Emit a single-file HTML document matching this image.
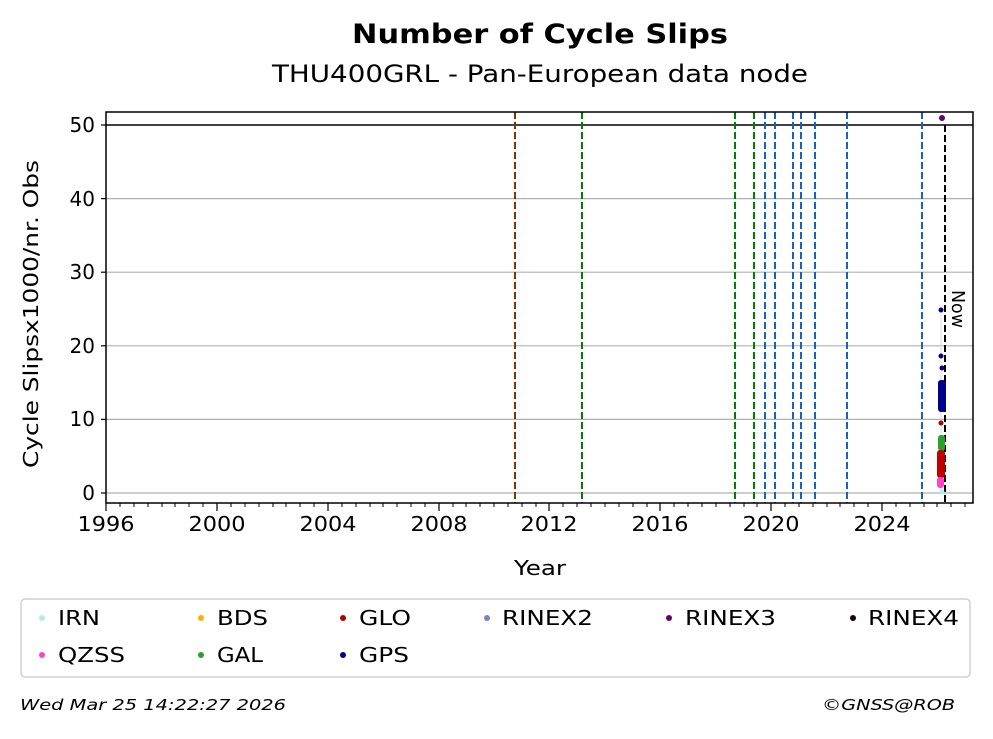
<!DOCTYPE html>
<html><head><style>body{margin:0;background:#fff}</style></head><body>
<svg width="993" height="734" xmlns="http://www.w3.org/2000/svg" font-family="'DejaVu Sans', 'Liberation Sans', sans-serif">
<rect width="993" height="734" fill="#fff"/>
<text x="540" y="43" font-size="27" font-weight="bold" text-anchor="middle" textLength="376" lengthAdjust="spacingAndGlyphs">Number of Cycle Slips</text>
<text x="540" y="82" font-size="24" text-anchor="middle" textLength="536" lengthAdjust="spacingAndGlyphs">THU400GRL - Pan-European data node</text>
<g stroke="#b0b0b0" stroke-width="1.2">
<line x1="106" x2="973" y1="493" y2="493"/><line x1="106" x2="973" y1="419.4" y2="419.4"/>
<line x1="106" x2="973" y1="345.8" y2="345.8"/><line x1="106" x2="973" y1="272.2" y2="272.2"/>
<line x1="106" x2="973" y1="198.6" y2="198.6"/>
</g>
<line x1="106" x2="973" y1="125" y2="125" stroke="#000" stroke-width="1.5"/>
<g stroke-width="2" stroke-dasharray="7,3">
<line x1="515" x2="515" y1="112" y2="503" stroke="#008000"/>
<line x1="515" x2="515" y1="112" y2="503" stroke="#e00000" stroke-dasharray="2,3"/>
<line x1="582" x2="582" y1="112" y2="503" stroke="#008000"/>
<line x1="735" x2="735" y1="112" y2="503" stroke="#008000"/>
<line x1="754" x2="754" y1="112" y2="503" stroke="#008000"/>
<g stroke="#1565c0">
<line x1="765" x2="765" y1="112" y2="503"/><line x1="775" x2="775" y1="112" y2="503"/>
<line x1="793" x2="793" y1="112" y2="503"/><line x1="801" x2="801" y1="112" y2="503"/>
<line x1="815" x2="815" y1="112" y2="503"/><line x1="847" x2="847" y1="112" y2="503"/>
<line x1="922" x2="922" y1="112" y2="503"/>
</g>
<line x1="945" x2="945" y1="125" y2="503" stroke="#000"/>
</g>
<text x="952" y="290" font-size="18" transform="rotate(90 952 290)" textLength="38" lengthAdjust="spacingAndGlyphs">Now</text>
<line x1="941" x2="941" y1="310" y2="490" stroke="#ddd" stroke-width="1"/>
<g>
<circle cx="942" cy="118" r="3" fill="#6a006a"/>
<circle cx="941" cy="310" r="2.5" fill="#00008b"/>
<circle cx="941" cy="356" r="2.5" fill="#00008b"/>
<circle cx="942" cy="368" r="2.5" fill="#00008b"/>
<rect x="938" y="380" width="8" height="32" rx="3" fill="#00008b"/>
<circle cx="941" cy="423" r="2.5" fill="#b00000"/>
<rect x="938" y="435" width="7" height="16" rx="3" fill="#2ca02c"/>
<rect x="937" y="450" width="8" height="28" rx="3" fill="#c00000"/>
<rect x="937" y="477" width="7" height="11" rx="3" fill="#ff44cc"/>
<circle cx="942" cy="492" r="2.5" fill="#aef0f0"/>
</g>
<rect x="106" y="112" width="867" height="391" fill="none" stroke="#000" stroke-width="1.5"/>
<g stroke="#000" stroke-width="1.2">
<line x1="106" x2="106" y1="503" y2="511"/><line x1="217" x2="217" y1="503" y2="511"/>
<line x1="328" x2="328" y1="503" y2="511"/><line x1="439" x2="439" y1="503" y2="511"/>
<line x1="549" x2="549" y1="503" y2="511"/><line x1="660" x2="660" y1="503" y2="511"/>
<line x1="771" x2="771" y1="503" y2="511"/><line x1="882" x2="882" y1="503" y2="511"/>
<line x1="101" x2="106" y1="493" y2="493"/><line x1="101" x2="106" y1="419.4" y2="419.4"/>
<line x1="101" x2="106" y1="345.8" y2="345.8"/><line x1="101" x2="106" y1="272.2" y2="272.2"/>
<line x1="101" x2="106" y1="198.6" y2="198.6"/><line x1="101" x2="106" y1="125" y2="125"/>
</g>
<path stroke="#000" stroke-width="1" d="M120 503v4M134 503v4M148 503v4M162 503v4M175 503v4M189 503v4M203 503v4M231 503v4M245 503v4M259 503v4M273 503v4M286 503v4M300 503v4M314 503v4M342 503v4M356 503v4M370 503v4M383 503v4M397 503v4M411 503v4M425 503v4M453 503v4M466 503v4M480 503v4M494 503v4M508 503v4M522 503v4M536 503v4M563 503v4M577 503v4M591 503v4M605 503v4M619 503v4M633 503v4M647 503v4M674 503v4M688 503v4M702 503v4M716 503v4M730 503v4M744 503v4M757 503v4M785 503v4M799 503v4M813 503v4M827 503v4M840 503v4M854 503v4M868 503v4M896 503v4M910 503v4M924 503v4M937 503v4M951 503v4M965 503v4"/>
<g font-size="20" text-anchor="middle">
<text x="106" y="531" textLength="57" lengthAdjust="spacingAndGlyphs">1996</text>
<text x="217" y="531" textLength="57" lengthAdjust="spacingAndGlyphs">2000</text>
<text x="328" y="531" textLength="57" lengthAdjust="spacingAndGlyphs">2004</text>
<text x="439" y="531" textLength="57" lengthAdjust="spacingAndGlyphs">2008</text>
<text x="549" y="531" textLength="57" lengthAdjust="spacingAndGlyphs">2012</text>
<text x="660" y="531" textLength="57" lengthAdjust="spacingAndGlyphs">2016</text>
<text x="771" y="531" textLength="57" lengthAdjust="spacingAndGlyphs">2020</text>
<text x="882" y="531" textLength="57" lengthAdjust="spacingAndGlyphs">2024</text>
</g>
<g font-size="20" text-anchor="end">
<text x="95" y="500">0</text><text x="95" y="426">10</text><text x="95" y="353">20</text>
<text x="95" y="279">30</text><text x="95" y="206">40</text><text x="95" y="132">50</text>
</g>
<text x="540" y="575" font-size="20" text-anchor="middle" textLength="52" lengthAdjust="spacingAndGlyphs">Year</text>
<text x="38" y="314" font-size="20" text-anchor="middle" transform="rotate(-90 38 314)" textLength="308" lengthAdjust="spacingAndGlyphs">Cycle Slipsx1000/nr. Obs</text>
<rect x="21" y="599" width="949" height="78" rx="4" fill="#fff" stroke="#d0d0d0" stroke-width="1.5"/>
<g font-size="20">
<circle cx="42" cy="618" r="3" fill="#aef0f0"/><text x="58" y="625" textLength="42" lengthAdjust="spacingAndGlyphs">IRN</text>
<circle cx="201" cy="618" r="3" fill="#ffb000"/><text x="217" y="625" textLength="51" lengthAdjust="spacingAndGlyphs">BDS</text>
<circle cx="343" cy="618" r="3" fill="#b00000"/><text x="359" y="625" textLength="52" lengthAdjust="spacingAndGlyphs">GLO</text>
<circle cx="487" cy="618" r="3" fill="#8080c0"/><text x="502" y="625" textLength="91" lengthAdjust="spacingAndGlyphs">RINEX2</text>
<circle cx="669" cy="618" r="3" fill="#6a006a"/><text x="685" y="625" textLength="91" lengthAdjust="spacingAndGlyphs">RINEX3</text>
<circle cx="853" cy="618" r="3" fill="#1a001a"/><text x="868" y="625" textLength="91" lengthAdjust="spacingAndGlyphs">RINEX4</text>
<circle cx="42" cy="655" r="3" fill="#ff44cc"/><text x="58" y="662" textLength="67" lengthAdjust="spacingAndGlyphs">QZSS</text>
<circle cx="201" cy="655" r="3" fill="#2ca02c"/><text x="217" y="662" textLength="46" lengthAdjust="spacingAndGlyphs">GAL</text>
<circle cx="343" cy="655" r="3" fill="#00008b"/><text x="359" y="662" textLength="50" lengthAdjust="spacingAndGlyphs">GPS</text>
</g>
<text x="20" y="710" font-size="15" font-style="italic" textLength="266" lengthAdjust="spacingAndGlyphs">Wed Mar 25 14:22:27 2026</text>
<text x="955" y="710" font-size="15" font-style="italic" text-anchor="end" textLength="133" lengthAdjust="spacingAndGlyphs">©GNSS@ROB</text>
</svg>
</body></html>
